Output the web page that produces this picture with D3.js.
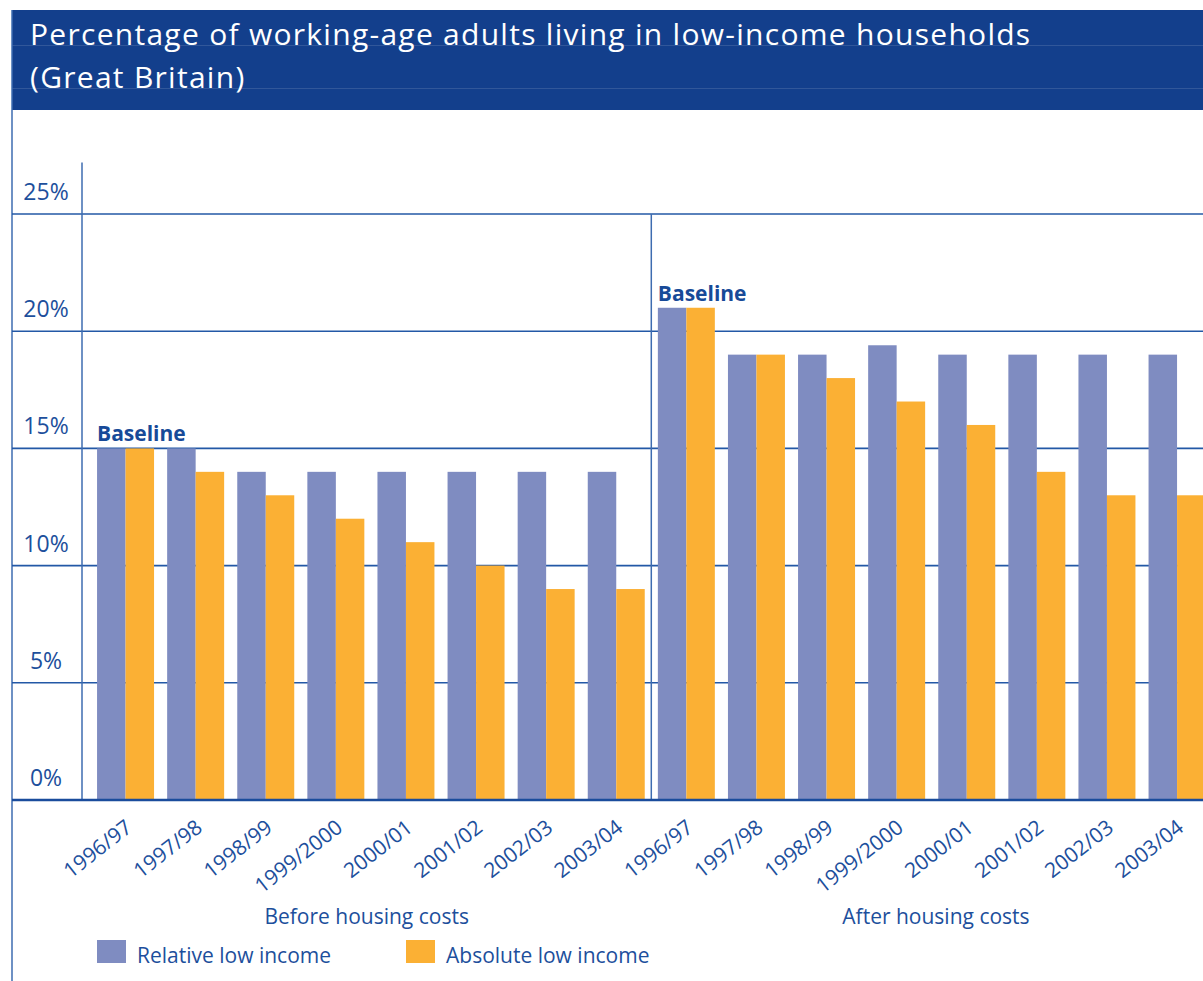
<!DOCTYPE html>
<html>
<head>
<meta charset="utf-8">
<script src="https://cdn.jsdelivr.net/npm/d3@7"></script>
<style>
  html, body { margin: 0; padding: 0; background: #fff; }
  svg { display: block; font-family: "Open Sans", "Noto Sans", sans-serif; }
</style>
</head>
<body>
<svg id="chart" width="1203" height="981"></svg>
<script>
// ---- data ----
const titleLines = ["Percentage of working-age adults living in low-income households", "(Great Britain)"];
const years = ["1996/97", "1997/98", "1998/99", "1999/2000", "2000/01", "2001/02", "2002/03", "2003/04"];
const panels = ["Before housing costs", "After housing costs"];
const seriesNames = ["Relative low income", "Absolute low income"];
const relativeBHC = [15, 15, 14, 14, 14, 14, 14, 14];
const absoluteBHC = [15, 14, 13, 12, 11, 10, 9, 9];
const relativeAHC = [21, 19, 19, 19.4, 19, 19, 19, 19];
const absoluteAHC = [21, 19, 18, 17, 16, 14, 13, 13];
const yTicks = [0, 5, 10, 15, 20, 25];
const yTickLabels = ["0%", "5%", "10%", "15%", "20%", "25%"];
const baselineText = "Baseline";

// ---- styling ----
const W = 1203, H = 981;
const navy = "#133f8c";
const ink = "#1d4f9c";
const lineBlue = "#2358a6";
const colors = { "Relative low income": "#7f8cc1", "Absolute low income": "#fbb034" };

const panelValues = [
  { rel: relativeBHC, abs: absoluteBHC },
  { rel: relativeAHC, abs: absoluteAHC }
];

const rows = [];
panels.forEach((p, pi) => {
  years.forEach((yr, i) => {
    rows.push({
      key: p + "|" + yr, panel: p, pi, i, year: yr,
      values: [
        { series: seriesNames[0], value: panelValues[pi].rel[i] },
        { series: seriesNames[1], value: panelValues[pi].abs[i] }
      ]
    });
  });
});

const svg = d3.select("#chart");

// ---- scales ----
const leftEdge = 12, axisX = 82;
const y = d3.scaleLinear().domain([0, 25]).range([800, 214]);
const yAxisTop = 27.2;
const x0 = d3.scaleBand().domain(rows.map(d => d.key))
  .range([90.5, 1212.1]).paddingInner(0.187).paddingOuter(0.0935);
const x1 = d3.scaleBand().domain(seriesNames).range([0, x0.bandwidth()]);
const sepX = x0(rows[years.length].key) - x0.step() * x0.paddingInner() / 2;

// ---- title banner ----
svg.append("rect").attr("x", leftEdge).attr("y", 10).attr("width", W - leftEdge).attr("height", 100)
  .attr("fill", navy);
[45.5, 88.5].forEach(yy => {
  svg.append("line").attr("x1", leftEdge).attr("x2", W).attr("y1", yy).attr("y2", yy)
    .attr("stroke", "#ffffff").attr("stroke-opacity", 0.13).attr("stroke-width", 1);
});
const titleText = svg.append("text").attr("fill", "#fff").attr("font-size", 30);
titleText.selectAll("tspan").data(titleLines).join("tspan")
  .attr("x", 30).attr("y", (d, i) => 45 + i * 43).text(d => d);
// open the tracking a little so the first line spans the banner like the set type
{
  const first = titleText.select("tspan").node();
  const len = first.getComputedTextLength();
  const spacing = Math.max(0, (1000 - len) / (titleLines[0].length - 1));
  titleText.attr("letter-spacing", spacing.toFixed(2));
}

// left frame line
svg.append("line").attr("x1", leftEdge).attr("x2", leftEdge).attr("y1", 10).attr("y2", H)
  .attr("stroke", "#3e6cb0").attr("stroke-width", 1.5);

// ---- grid ----
svg.append("g").selectAll("line").data(yTicks.filter(t => t > 0)).join("line")
  .attr("x1", leftEdge).attr("x2", W)
  .attr("y1", d => y(d)).attr("y2", d => y(d))
  .attr("stroke", lineBlue).attr("stroke-width", 1.6);

// y axis line
svg.append("line").attr("x1", axisX).attr("x2", axisX).attr("y1", y(yAxisTop)).attr("y2", y(0))
  .attr("stroke", "#3e6cb0").attr("stroke-width", 1.5);
// panel separator
svg.append("line").attr("x1", sepX).attr("x2", sepX).attr("y1", y(25)).attr("y2", y(0))
  .attr("stroke", "#3e6cb0").attr("stroke-width", 1.5);

// y tick labels
svg.append("g").selectAll("text").data(yTicks).join("text")
  .attr("x", 46).attr("y", d => y(d) - 14)
  .attr("text-anchor", "middle").attr("fill", ink).attr("font-size", 23)
  .text((d, i) => yTickLabels[i]);

// ---- bars ----
const groups = svg.append("g").selectAll("g").data(rows).join("g")
  .attr("transform", d => `translate(${x0(d.key)},0)`);
groups.selectAll("rect").data(d => d.values).join("rect")
  .attr("x", d => x1(d.series))
  .attr("width", x1.bandwidth())
  .attr("y", d => y(d.value))
  .attr("height", d => y(0) - y(d.value))
  .attr("fill", d => colors[d.series]);

// zero line
svg.append("line").attr("x1", leftEdge).attr("x2", W).attr("y1", y(0)).attr("y2", y(0))
  .attr("stroke", "#1a4c9c").attr("stroke-width", 2.6);

// "Baseline" labels over the first year of each panel
svg.append("g").selectAll("text").data(rows.filter(d => d.i === 0)).join("text")
  .attr("x", d => x0(d.key))
  .attr("y", d => y(d3.max(d.values, v => v.value)) - 7)
  .attr("fill", "#174a98").attr("font-size", 21).attr("font-weight", 700)
  .text(baselineText);

// year labels
svg.append("g").selectAll("text").data(rows).join("text")
  .attr("transform", d => `translate(${x0(d.key) + x0.bandwidth() / 2 + 8},830) rotate(-38)`)
  .attr("text-anchor", "end").attr("fill", ink).attr("font-size", 21)
  .text(d => d.year);

// panel labels
const panelW = sepX - axisX;
svg.append("g").selectAll("text").data(panels).join("text")
  .attr("x", (d, i) => axisX + (i + 0.5) * panelW)
  .attr("y", 924).attr("text-anchor", "middle")
  .attr("fill", ink).attr("font-size", 21)
  .text(d => d);

// ---- legend ----
const legendX = [97, 406];
const leg = svg.append("g").selectAll("g").data(seriesNames).join("g")
  .attr("transform", (d, i) => `translate(${legendX[i]},940)`);
leg.append("rect").attr("width", 29).attr("height", 23).attr("fill", d => colors[d]);
leg.append("text").attr("x", 40).attr("y", 23)
  .attr("fill", ink).attr("font-size", 21).text(d => d);
</script>
</body>
</html>
